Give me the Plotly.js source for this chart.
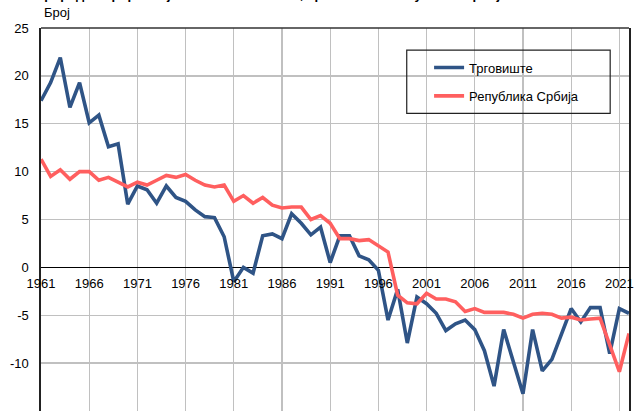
<!DOCTYPE html>
<html>
<head>
<meta charset="utf-8">
<script src="https://cdn.plot.ly/plotly-3.0.1.min.js"></script>
<style>html,body{margin:0;padding:0;background:#fff;}#chart{width:635px;height:412px;}</style>
</head>
<body>
<div id="chart"></div>
<script>
var years = [];
for (var y = 1961; y <= 2022; y++) years.push(y);

var trgoviste = [17.4, 19.3, 21.9, 16.7, 19.3, 15.1, 15.9, 12.6, 12.9, 6.6,
  8.5, 8.1, 6.7, 8.5, 7.3, 6.9, 6.0, 5.3, 5.2, 3.2,
  -1.5, 0.0, -0.6, 3.3, 3.5, 3.0, 5.6, 4.6, 3.4, 4.2,
  0.5, 3.3, 3.3, 1.2, 0.8, -0.3, -5.5, -2.3, -7.9, -3.1,
  -3.8, -4.8, -6.6, -5.9, -5.5, -6.5, -8.7, -12.4, -6.5, -10.0,
  -13.2, -6.5, -10.8, -9.6, -6.9, -4.3, -5.7, -4.2, -4.2, -9.0,
  -4.3, -4.8];

var srbija = [11.3, 9.5, 10.2, 9.2, 10.0, 10.0, 9.1, 9.4, 8.9, 8.4,
  8.9, 8.6, 9.1, 9.6, 9.4, 9.7, 9.1, 8.6, 8.4, 8.6,
  6.9, 7.5, 6.7, 7.3, 6.5, 6.2, 6.3, 6.3, 5.0, 5.4,
  4.6, 3.0, 3.0, 2.8, 2.9, 2.2, 1.6, -2.9, -3.7, -3.8,
  -2.7, -3.3, -3.3, -3.6, -4.6, -4.3, -4.7, -4.7, -4.7, -4.9,
  -5.3, -4.9, -4.8, -4.9, -5.3, -5.2, -5.5, -5.4, -5.3, -8.1,
  -10.9, -6.9];

var xTicks = [1961, 1966, 1971, 1976, 1981, 1986, 1991, 1996, 2001, 2006, 2011, 2016, 2021];
var yTicks = [-15, -10, -5, 0, 5, 10, 15, 20, 25];
var seriesNames = ['Трговиште', 'Република Србија'];
var titleText = 'Природни прираштај на 1000 становника, Трговиште и Република Србија';
var yTitle = 'Број';

var FONT = 'Liberation Sans, Arial, sans-serif';

var traces = [
  {x: years, y: trgoviste, name: seriesNames[0], type: 'scatter', mode: 'lines',
   line: {color: '#2F5486', width: 3.6}, legendgroup: 'a', cliponaxis: true},
  {x: years, y: srbija, name: seriesNames[1], type: 'scatter', mode: 'lines',
   line: {color: '#FF5F5F', width: 3.6}, legendgroup: 'b', cliponaxis: true}
];

var layout = {
  width: 635, height: 412,
  margin: {l: 41, r: 6, t: 28, b: 1, pad: 0},
  paper_bgcolor: '#ffffff', plot_bgcolor: '#ffffff',
  font: {family: FONT, size: 13, color: '#000'},
  showlegend: true,
  legend: {
    x: 0.66, y: 0.936, xanchor: 'left', yanchor: 'top',
    bgcolor: 'rgba(0,0,0,0)', borderwidth: 0,
    font: {family: FONT, size: 13, color: '#000'},
    traceorder: 'grouped', tracegroupgap: 8.5
  },
  xaxis: {
    range: [1961, 2022],
    tickmode: 'array', tickvals: xTicks, ticktext: xTicks.map(String),
    showgrid: true, gridcolor: '#c0c0c0', gridwidth: 1.3,
    zeroline: false, showline: false,
    anchor: 'free', position: 0.375,
    ticks: 'outside', ticklen: 4, tickcolor: 'rgba(0,0,0,0)',
    tickfont: {family: FONT, size: 13, color: '#000'},
    fixedrange: true
  },
  yaxis: {
    range: [-15, 25],
    tickmode: 'array', tickvals: yTicks, ticktext: yTicks.map(String),
    showgrid: true, gridcolor: '#c0c0c0', gridwidth: 1.3,
    zeroline: true, zerolinecolor: '#000', zerolinewidth: 1.3,
    showline: true, mirror: true, linecolor: '#222', linewidth: 1.6,
    ticks: 'outside', ticklen: 8, tickcolor: 'rgba(0,0,0,0)',
    tickfont: {family: FONT, size: 13, color: '#000'},
    fixedrange: true
  },
  shapes: [
    {type: 'line', xref: 'paper', yref: 'paper', x0: 0, x1: 1, y0: 1, y1: 1,
     line: {color: '#333', width: 1.5}, layer: 'above'},
    {type: 'rect', xref: 'paper', yref: 'paper', x0: 0.622, x1: 0.968, y0: 0.777, y1: 0.942,
     line: {color: '#222', width: 1.2}, fillcolor: 'rgba(0,0,0,0)', layer: 'above'}
  ],
  annotations: [
    {text: yTitle, xref: 'paper', yref: 'paper', x: 0.001, y: 1.0405,
     xanchor: 'left', yanchor: 'middle', showarrow: false,
     font: {family: FONT, size: 13, color: '#000'}},
    {text: '<b>' + titleText + '</b>', xref: 'paper', yref: 'paper', x: -0.0136, y: 1.0625,
     xanchor: 'left', yanchor: 'bottom', showarrow: false,
     font: {family: FONT, size: 13, color: '#000'}}
  ]
};

Plotly.newPlot('chart', traces, layout, {displayModeBar: false, staticPlot: true});
</script>
</body>
</html>
